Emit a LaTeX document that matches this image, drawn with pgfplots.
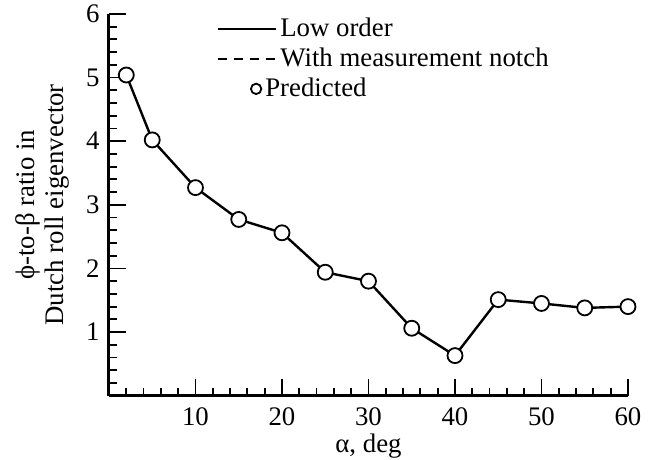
\documentclass[border=0pt]{standalone}
\usepackage{pgfplots}
\pgfplotsset{compat=1.18}
\usepackage{fontspec}
\setmainfont{Liberation Serif}

% phi-to-beta ratio of the Dutch roll eigenvector versus angle of attack
\pgfplotstableread{
alpha  ratio
2      5.04
5      4.02
10     3.27
15     2.77
20     2.56
25     1.94
30     1.80
35     1.06
40     0.63
45     1.51
50     1.45
55     1.38
60     1.40
}\dutchroll

\pgfplotsset{
  lineleg/.style={legend image code/.code={\draw[##1] (0bp,2.5bp) -- (29bp,2.5bp);}},
  markleg/.style={legend image code/.code={%
    \path[draw=none] (0bp,2.5bp) -- (29bp,2.5bp);
    \draw[black, fill=white, line width=0.9bp] (19bp,2.5bp) circle (2.6bp);}},
}

\begin{document}
\fontsize{13.4bp}{14.5bp}\selectfont
\begin{tikzpicture}
\useasboundingbox (-54.5bp,-32.15bp) rectangle (273.5bp,197.85bp);
\begin{axis}[
  scale only axis,
  width=259.5bp, height=190.9bp,
  xmin=0, xmax=60, ymin=0, ymax=6,
  axis lines=left,
  axis line style={-, line width=1.5bp},
  tick align=inside,
  xtick={0,10,...,60},
  xticklabels={,10,20,30,40,50,60},
  ytick={0,1,...,6},
  yticklabels={,1,2,3,4,5,6},
  minor x tick num=4,
  minor y tick num=4,
  major tick length=8.5bp,
  minor tick length=4bp,
  every tick/.style={black, line width=0.9bp},
  /pgf/number format/assume math mode=true,
  xticklabel style={anchor=north, inner sep=0pt, yshift=-6bp},
  yticklabel style={anchor=east, inner sep=0pt, xshift=-4.5bp},
  xlabel={α, deg},
  ylabel={ϕ-to-β ratio in\\Dutch roll eigenvector},
  xlabel style={at={(axis description cs:0.5,-0.131)}, anchor=center, inner sep=0pt},
  ylabel style={at={(axis description cs:-0.128,0.5)}, anchor=center, align=center, inner sep=0pt},
  legend cell align=left,
  legend style={
    at={(axis description cs:0.208,0.987)}, anchor=north west,
    draw=none, fill=none, inner sep=0pt, outer sep=0pt,
    row sep=0pt, column sep=0pt,
    nodes={inner sep=0pt, text height=9bp, text depth=6bp},
  },
]
\addplot[black, line width=1.2bp, lineleg]
  table[x=alpha, y=ratio] {\dutchroll};
\addlegendentry{\hspace*{1.5bp}Low order}

\addlegendimage{black, line width=1.2bp, dash pattern=on 4.5bp off 3.5bp, lineleg}
\addlegendentry{\hspace*{1.5bp}With measurement notch}

\addplot[only marks, mark=*, mark size=3.75bp,
  mark options={draw=black, fill=white, line width=0.9bp}, markleg]
  table[x=alpha, y=ratio] {\dutchroll};
\addlegendentry{\hspace*{-6bp}Predicted}

\node[anchor=north east, inner sep=0pt, xshift=-4.5bp, yshift=-3.5bp]
  at (rel axis cs:0,0) {0};
\end{axis}
\end{tikzpicture}
\end{document}
